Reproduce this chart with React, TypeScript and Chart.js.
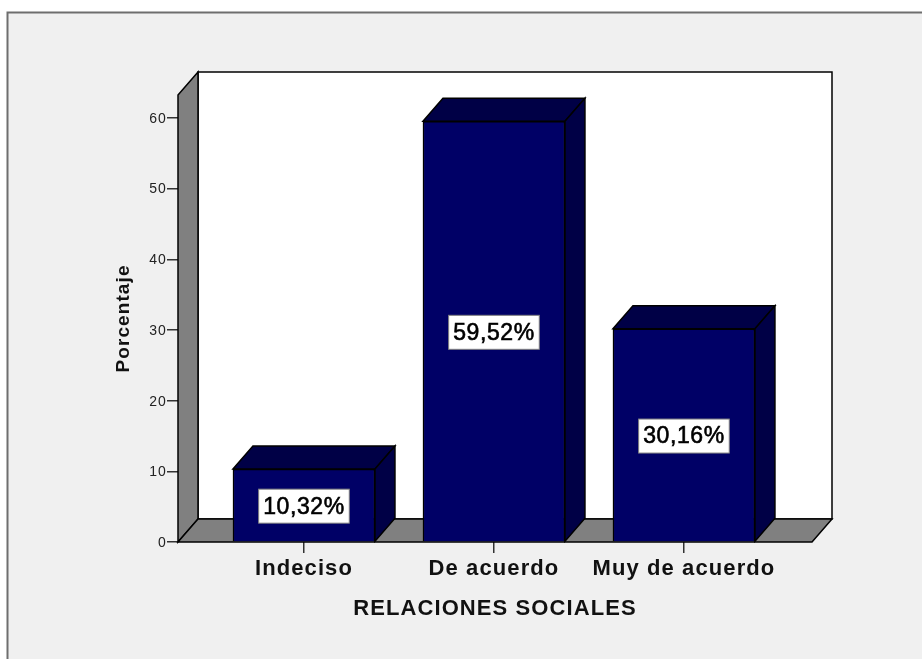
import React, { useEffect, useRef } from "react";
import { Chart, registerables } from "chart.js";

Chart.register(...registerables);

const categories = ["Indeciso", "De acuerdo", "Muy de acuerdo"];
const positions = [0, 1, 2];
const values = [10.32, 59.52, 30.16];
const valueLabels = ["10,32%", "59,52%", "30,16%"];
const yTicks = [0, 10, 20, 30, 40, 50, 60];
const xTitle = "RELACIONES SOCIALES";
const yTitle = "Porcentaje";

const DX = 20;
const DY = 23;
const FONT = "'Liberation Sans', Arial, sans-serif";

const scene = {
  id: "scene",
  beforeDraw(chart: any) {
    const { ctx, width, height } = chart;
    ctx.save();
    ctx.fillStyle = "#ffffff";
    ctx.fillRect(0, 0, width, height);
    ctx.fillStyle = "#f0f0f0";
    ctx.fillRect(7, 12, width, height);
    ctx.strokeStyle = "#6e6e6e";
    ctx.lineWidth = 2;
    ctx.beginPath();
    ctx.moveTo(7.5, height);
    ctx.lineTo(7.5, 12.5);
    ctx.lineTo(width, 12.5);
    ctx.stroke();
    ctx.restore();
    ctx.letterSpacing = "1.1px";
  },
  beforeDatasetsDraw(chart: any) {
    const { ctx, chartArea: a } = chart;
    const poly = (pts: number[][], fill: string) => {
      ctx.beginPath();
      pts.forEach((p, i) => (i ? ctx.lineTo(p[0], p[1]) : ctx.moveTo(p[0], p[1])));
      ctx.closePath();
      ctx.fillStyle = fill;
      ctx.fill();
      ctx.stroke();
    };
    ctx.save();
    ctx.strokeStyle = "#000000";
    ctx.lineWidth = 1.5;
    ctx.lineJoin = "miter";
    const gray = "#808080";
    poly([[a.left + DX, a.top - DY], [a.right + DX, a.top - DY], [a.right + DX, a.bottom - DY], [a.left + DX, a.bottom - DY]], "#ffffff");
    poly([[a.left, a.top], [a.left + DX, a.top - DY], [a.left + DX, a.bottom - DY], [a.left, a.bottom]], gray);
    poly([[a.left, a.bottom], [a.left + DX, a.bottom - DY], [a.right + DX, a.bottom - DY], [a.right, a.bottom]], gray);
    const meta = chart.getDatasetMeta(0);
    meta.data.forEach((bar: any) => {
      const p = bar.getProps(["x", "y", "base", "width"], true);
      const l = p.x - p.width / 2;
      const r = p.x + p.width / 2;
      poly([[l, p.y], [l + DX, p.y - DY], [r + DX, p.y - DY], [r, p.y]], "#000046");
      poly([[r, p.y], [r + DX, p.y - DY], [r + DX, p.base - DY], [r, p.base]], "#000046");
    });
    ctx.restore();
  },
  afterDatasetsDraw(chart: any) {
    const { ctx } = chart;
    const meta = chart.getDatasetMeta(0);
    ctx.save();
    ctx.letterSpacing = "0.6px";
    ctx.font = `23px ${FONT}`;
    ctx.textAlign = "center";
    ctx.textBaseline = "middle";
    meta.data.forEach((bar: any, i: number) => {
      const p = bar.getProps(["x", "y", "base"], true);
      const cy = (p.y + p.base) / 2 + 1;
      const tw = ctx.measureText(valueLabels[i]).width;
      const w = tw + 9;
      const h = 34;
      ctx.fillStyle = "#ffffff";
      ctx.strokeStyle = "#808080";
      ctx.lineWidth = 1;
      ctx.fillRect(p.x - w / 2, cy - h / 2, w, h);
      ctx.strokeRect(p.x - w / 2, cy - h / 2, w, h);
      ctx.fillStyle = "#000000";
      ctx.strokeStyle = "#000000";
      ctx.lineWidth = 0.6;
      ctx.fillText(valueLabels[i], p.x, cy + 1);
      ctx.strokeText(valueLabels[i], p.x, cy + 1);
    });
    ctx.restore();
  },
  afterDraw(chart: any) {
    chart.ctx.letterSpacing = "0px";
  },
};

export default function App() {
  const ref = useRef<HTMLCanvasElement>(null);
  useEffect(() => {
    document.body.style.margin = "0";
    const chart = new Chart(ref.current!, {
      type: "bar",
      data: {
        labels: categories,
        datasets: [
          {
            data: positions.map((x, i) => ({ x, y: values[i] })),
            backgroundColor: "#000066",
            borderColor: "#000000",
            borderWidth: 1.5,
            barThickness: 142,
          },
        ],
      },
      options: {
        responsive: false,
        animation: false,
        layout: { padding: { left: 112, right: 110, top: 95, bottom: 0 } },
        plugins: { legend: { display: false }, tooltip: { enabled: false } },
        scales: {
          x: {
            type: "linear",
            offset: false,
            min: -0.663,
            max: 2.674,
            afterBuildTicks: (s: any) => {
              s.ticks = positions.map((value) => ({ value }));
            },
            afterFit: (s: any) => {
              s.height = 659 - 542;
            },
            grid: { offset: false, drawOnChartArea: false, tickLength: 11, color: "#333333", lineWidth: 1.5 },
            border: { display: false },
            ticks: {
              callback: (v: any) => categories[v as number],
              color: "#111111",
              font: { family: FONT, size: 22, weight: "bold" },
              maxRotation: 0,
              autoSkip: false,
              padding: 3,
            },
            title: {
              display: true,
              text: xTitle,
              color: "#111111",
              font: { family: FONT, size: 22, weight: "bold" },
              padding: { top: 5, bottom: 37 },
            },
          },
          y: {
            min: 0,
            max: 63.25,
            afterBuildTicks: (s: any) => {
              s.ticks = yTicks.map((value) => ({ value }));
            },
            afterFit: (s: any) => {
              s.width = 178 - 112;
            },
            grid: { drawOnChartArea: false, tickLength: 11, color: "#333333", lineWidth: 1.5 },
            border: { display: false },
            ticks: {
              color: "#222222",
              font: { family: FONT, size: 14 },
              padding: 0,
              labelOffset: 1,
            },
            title: {
              display: true,
              text: yTitle,
              color: "#111111",
              font: { family: FONT, size: 19, weight: "bold" },
              padding: { top: 0, bottom: 0 },
            },
          },
        },
      },
      plugins: [scene],
    } as any);
    return () => chart.destroy();
  }, []);
  return (
    <div style={{ width: 922, height: 659 }}>
      <canvas ref={ref} width={922} height={659} style={{ display: "block" }} />
    </div>
  );
}
